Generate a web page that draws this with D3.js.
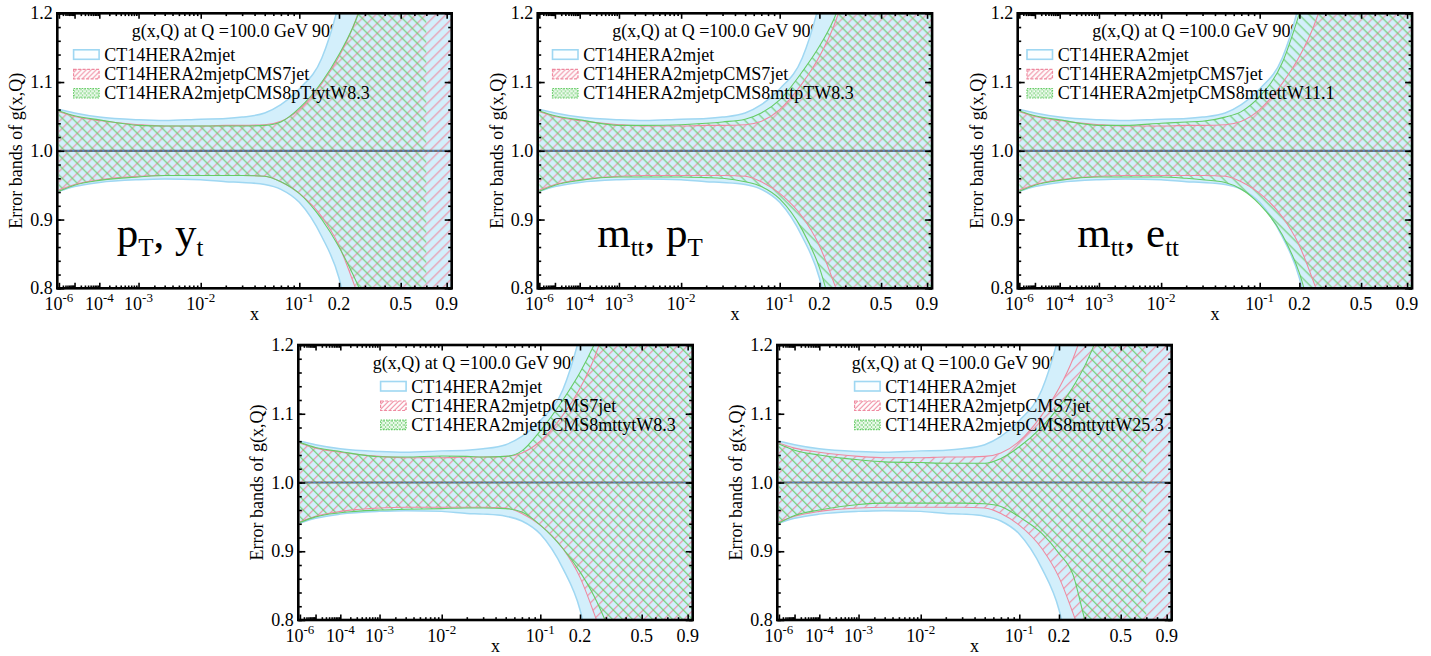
<!DOCTYPE html>
<html><head><meta charset="utf-8">
<script src="https://cdn.jsdelivr.net/npm/d3@7"></script>
<style>
body{margin:0;background:#fff}
svg{display:block}
text{font-family:"Liberation Serif","Times New Roman",serif;fill:#000}
</style>
</head><body>
<svg id="c" width="1431" height="656"></svg>
<script>
// ---------------- DATA ----------------
const xGrid = [1e-6,1e-5,1e-4,1e-3,3e-3,1e-2,0.02,0.03,0.05,0.07,0.1,0.15,0.2,0.25,0.3,0.4,0.5,0.6,0.7,0.8,0.9,0.95];

// CT14HERA2mjet (same in every panel)
const blueUp = [1.060,1.055,1.049,1.045,1.044,1.046,1.047,1.049,1.055,1.067,1.090,1.135,1.215,1.310,1.420,1.600,1.780,1.950,2.100,2.250,2.400,2.480];
const blueLo = [0.941,0.948,0.954,0.958,0.959,0.958,0.955,0.954,0.951,0.944,0.925,0.875,0.815,0.720,0.640,0.500,0.380,0.280,0.200,0.120,0.060,0.030];

// CT14HERA2mjetpCMS7jet (same in every panel)
const redUp = [1.057,1.050,1.044,1.038,1.036,1.036,1.037,1.037,1.038,1.043,1.060,1.098,1.137,1.180,1.230,1.330,1.430,1.530,1.620,1.700,1.780,1.820];
const redLo = [0.943,0.951,0.958,0.963,0.964,0.964,0.964,0.964,0.963,0.955,0.938,0.904,0.862,0.810,0.760,0.660,0.570,0.480,0.400,0.320,0.250,0.220];

// CT14HERA2mjetpCMS8 ... variants
const greenUp_pTyt   = [1.058,1.051,1.045,1.037,1.036,1.036,1.036,1.036,1.037,1.042,1.062,1.100,1.140,1.180,1.225,1.320,1.420,1.520,1.600,null,null,null];
const greenLo_pTyt   = [0.941,0.950,0.957,0.962,0.964,0.964,0.964,0.964,0.963,0.955,0.938,0.900,0.860,0.820,0.780,0.690,0.600,0.510,0.430,null,null,null];
const greenUp_mttpT  = [1.058,1.051,1.045,1.037,1.037,1.038,1.040,1.042,1.046,1.055,1.074,1.115,1.152,1.190,1.235,1.330,1.430,1.520,1.600,1.680,1.750,1.790];
const greenLo_mttpT  = [0.941,0.950,0.957,0.962,0.962,0.962,0.961,0.960,0.955,0.948,0.930,0.885,0.830,0.760,0.700,0.600,0.500,0.410,0.330,0.260,0.200,0.170];
const greenUp_mttett = [1.058,1.051,1.045,1.037,1.037,1.040,1.042,1.043,1.049,1.057,1.079,1.128,1.200,1.270,1.340,1.480,1.600,1.700,1.790,1.870,1.940,1.980];
const greenLo_mttett = [0.941,0.950,0.957,0.962,0.962,0.962,0.960,0.958,0.954,0.944,0.922,0.878,0.822,0.750,0.690,0.580,0.480,0.390,0.310,0.240,0.180,0.150];
const greenUp_mttyt  = [1.058,1.051,1.045,1.0375,1.037,1.0385,1.038,1.037,1.038,1.046,1.075,1.120,1.160,1.200,1.240,1.330,1.420,1.500,1.580,1.650,1.720,1.750];
const greenLo_mttyt  = [0.942,0.950,0.956,0.960,0.961,0.962,0.963,0.963,0.962,0.957,0.938,0.904,0.870,0.835,0.797,0.720,0.640,0.560,0.480,0.400,0.330,0.300];
const greenUp_mttytt = [1.056,1.047,1.040,1.033,1.030,1.029,1.028,1.028,1.028,1.035,1.052,1.081,1.110,1.139,1.170,1.240,1.310,1.380,1.450,null,null,null];
const greenLo_mttytt = [0.941,0.952,0.960,0.968,0.970,0.970,0.970,0.970,0.969,0.965,0.950,0.926,0.897,0.866,0.800,0.720,0.640,0.560,0.480,null,null,null];

const titleText = "g(x,Q) at Q =100.0 GeV 90%";
const blueName = "CT14HERA2mjet";
const redName = "CT14HERA2mjetpCMS7jet";
const greenNames = ["CT14HERA2mjetpCMS8pTtytW8.3","CT14HERA2mjetpCMS8mttpTW8.3","CT14HERA2mjetpCMS8mttettW11.1","CT14HERA2mjetpCMS8mttytW8.3","CT14HERA2mjetpCMS8mttyttW25.3"];
const greenUps = [greenUp_pTyt, greenUp_mttpT, greenUp_mttett, greenUp_mttyt, greenUp_mttytt];
const greenLos = [greenLo_pTyt, greenLo_mttpT, greenLo_mttett, greenLo_mttyt, greenLo_mttytt];
// panel labels: [text, isSub] pieces
const panelLabels = [
  [["p",0],["T",1],[", y",0],["t",1]],
  [["m",0],["tt",1],[", p",0],["T",1]],
  [["m",0],["tt",1],[", e",0],["tt",1]],
  null, null
];
const yTicks = [0.8,0.9,1.0,1.1,1.2];
const yMinor = d3.range(0.8,1.2001,0.02);
const xMajor = [1e-6,1e-5,1e-4,1e-3,1e-2,0.1,0.2,0.5,0.9];
const xMinor = [2e-6,3e-6,4e-6,5e-6,6e-6,7e-6,8e-6,9e-6,2e-5,3e-5,4e-5,5e-5,6e-5,7e-5,8e-5,9e-5,
  2e-4,3e-4,4e-4,5e-4,6e-4,7e-4,8e-4,9e-4,2e-3,3e-3,4e-3,5e-3,6e-3,7e-3,8e-3,9e-3,
  0.02,0.03,0.04,0.05,0.06,0.07,0.08,0.09,0.3,0.4,0.6,0.7,0.8];
const xLabels = [[1e-6,"10","-6"],[1e-4,"10","-4"],[1e-3,"10","-3"],[1e-2,"10","-2"],[0.1,"10","-1"],[0.2,"0.2",""],[0.5,"0.5",""],[0.9,"0.9",""]];

// ---------------- LAYOUT ----------------
const W = 394.4, H = 275;
const panels = [
  {left:57.3, top:13.3, legDx:15.5},
  {left:537.7, top:13.3, legDx:14},
  {left:1017.7, top:13.3, legDx:8.5},
  {left:298.3, top:345, legDx:81.5},
  {left:777.3, top:345, legDx:76.5}
];
const colBlueFill = "#d3effb", colBlueEdge = "#9fd7f2";
const colRed = "#ef8aa0", colGreen = "#66cc66";

const svg = d3.select("#c");
const defs = svg.append("defs");
function hatch(id, color, dir, size, dash) {
  const p = defs.append("pattern").attr("id", id).attr("patternUnits","userSpaceOnUse")
    .attr("width", size).attr("height", size);
  const s = size;
  const d = dir > 0
    ? `M${-1},${1} L${1},${-1} M0,${s} L${s},0 M${s-1},${s+1} L${s+1},${s-1}`
    : `M${-1},${s-1} L${1},${s+1} M0,0 L${s},${s} M${s-1},${-1} L${s+1},${1}`;
  const path = p.append("path").attr("d", d).attr("stroke", color).attr("stroke-width", 1.1).attr("fill","none");
  if (dash) path.attr("stroke-dasharray", dash);
}
hatch("redH", colRed, 1, 10);
hatch("greenH", colGreen, -1, 10);
hatch("redS", colRed, 1, 5);
hatch("greenS", colGreen, -1, 4, "1,1");
hatch("greenS2", colGreen, 1, 4, "1,1");

const x = d3.scalePow().exponent(0.2).domain([7.3e-7, 0.956]).range([0, W]);
const y = d3.scaleLinear().domain([0.8, 1.2]).range([H, 0]);

const rows = (up, lo) => xGrid.map((xv, i) => ({x: xv, u: up[i], l: lo[i]}));
const area = d3.area().defined(d => d.u != null).x(d => x(d.x)).y0(d => y(d.l)).y1(d => y(d.u)).curve(d3.curveMonotoneX);
const lineU = d3.line().defined(d => d.u != null).x(d => x(d.x)).y(d => y(d.u)).curve(d3.curveMonotoneX);
const lineL = d3.line().defined(d => d.u != null).x(d => x(d.x)).y(d => y(d.l)).curve(d3.curveMonotoneX);

panels.forEach((P, k) => {
  const g = svg.append("g").attr("transform", `translate(${P.left},${P.top})`);
  const cid = "clip" + k;
  defs.append("clipPath").attr("id", cid).append("rect").attr("width", W).attr("height", H);

  // title (under bands)
  g.append("text").attr("x", 74.5).attr("y", 24).attr("font-size", 18).text(titleText);

  const gc = g.append("g").attr("clip-path", `url(#${cid})`);
  const blue = rows(blueUp, blueLo), red = rows(redUp, redLo), green = rows(greenUps[k], greenLos[k]);
  gc.append("path").datum(blue).attr("d", area).attr("fill", colBlueFill);
  gc.append("path").datum(blue).attr("d", lineU).attr("fill","none").attr("stroke", colBlueEdge).attr("stroke-width", 1.5);
  gc.append("path").datum(blue).attr("d", lineL).attr("fill","none").attr("stroke", colBlueEdge).attr("stroke-width", 1.5);
  gc.append("path").datum(red).attr("d", area).attr("fill", "url(#redH)");
  gc.append("path").datum(green).attr("d", area).attr("fill", "url(#greenH)");
  [lineU, lineL].forEach(L => {
    gc.append("path").datum(red).attr("d", L).attr("fill","none").attr("stroke", colRed).attr("stroke-width", 1.1);
    gc.append("path").datum(green).attr("d", L).attr("fill","none").attr("stroke", colGreen).attr("stroke-width", 1.1);
  });
  // central line
  gc.append("line").attr("x1", 0).attr("x2", W).attr("y1", y(1)).attr("y2", y(1)).attr("stroke", "#707070").attr("stroke-width", 2.2);
  gc.append("line").attr("x1", 0).attr("x2", W).attr("y1", y(1)).attr("y2", y(1)).attr("stroke", "#4f8fe0").attr("stroke-width", 1.2).attr("stroke-dasharray","2,3");

  // axes ticks
  const styleAx = sel => { sel.select(".domain").remove(); sel.selectAll("line").attr("stroke","#000").attr("stroke-width",1.6); sel.selectAll("text").remove(); };
  g.append("g").attr("transform", `translate(0,${H})`).call(d3.axisBottom(x).tickValues(xMajor).tickSize(-5.5).tickFormat("")).call(styleAx);
  g.append("g").attr("transform", `translate(0,${H})`).call(d3.axisBottom(x).tickValues(xMinor).tickSize(-2.8).tickFormat("")).call(styleAx);
  g.append("g").call(d3.axisTop(x).tickValues(xMajor).tickSize(-5.5).tickFormat("")).call(styleAx);
  g.append("g").call(d3.axisTop(x).tickValues(xMinor).tickSize(-2.8).tickFormat("")).call(styleAx);
  g.append("g").call(d3.axisLeft(y).tickValues(yTicks).tickSize(-7).tickFormat("")).call(styleAx);
  g.append("g").call(d3.axisLeft(y).tickValues(yMinor).tickSize(-3.5).tickFormat("")).call(styleAx);
  g.append("g").attr("transform", `translate(${W},0)`).call(d3.axisRight(y).tickValues(yTicks).tickSize(-7).tickFormat("")).call(styleAx);
  g.append("g").attr("transform", `translate(${W},0)`).call(d3.axisRight(y).tickValues(yMinor).tickSize(-3.5).tickFormat("")).call(styleAx);

  // frame
  g.append("rect").attr("width", W).attr("height", H).attr("fill","none").attr("stroke","#000").attr("stroke-width", 2.6);

  // y tick labels
  yTicks.forEach(v => {
    g.append("text").attr("x", -4.5).attr("y", y(v) + 6).attr("text-anchor","end").attr("font-size", 18).text(v.toFixed(1));
  });
  // x tick labels
  xLabels.forEach(([v, base, sup]) => {
    const t = g.append("text").attr("x", x(v)).attr("y", H + 22).attr("text-anchor","middle").attr("font-size", 18);
    t.append("tspan").text(base);
    if (sup) t.append("tspan").attr("font-size", 13).attr("dy", -8).text(sup);
  });
  // axis titles
  g.append("text").attr("x", W/2).attr("y", H + 32).attr("text-anchor","middle").attr("font-size", 18).text("x");
  g.append("text").attr("transform", `translate(-35,${H/2}) rotate(-90)`).attr("text-anchor","middle").attr("font-size", 18).text("Error bands of g(x,Q)");

  // legend
  const lg = g.append("g").attr("transform", `translate(${P.legDx},0)`);
  lg.append("rect").attr("x",0.8).attr("y",36.5).attr("width",25.5).attr("height",9.5).attr("fill","#fbfeff").attr("stroke", colBlueEdge).attr("stroke-width",1.6);
  lg.append("rect").attr("x",0.8).attr("y",56).attr("width",25.5).attr("height",9.5).attr("fill","url(#redS)").attr("stroke", colRed).attr("stroke-width",1.2).attr("stroke-dasharray","3,1.5");
  lg.append("rect").attr("x",0.8).attr("y",75.2).attr("width",25.5).attr("height",9.5).attr("fill","url(#greenS)").attr("stroke", colGreen).attr("stroke-width",1.2).attr("stroke-dasharray","1.5,1.2");
  lg.append("rect").attr("x",0.8).attr("y",75.2).attr("width",25.5).attr("height",9.5).attr("fill","url(#greenS2)");
  [[blueName,47.7],[redName,66.8],[greenNames[k],86]].forEach(([s, yy]) => {
    lg.append("text").attr("x", 31.5).attr("y", yy).attr("font-size", 18).text(s);
  });

  // panel label
  if (panelLabels[k]) {
    const t = g.append("text").attr("x", 59.5).attr("y", 233.5).attr("font-size", 43);
    let sub = false;
    panelLabels[k].forEach(([s, isSub]) => {
      const ts = t.append("tspan").text(s);
      if (isSub && !sub) { ts.attr("font-size", 25).attr("dy", 9); sub = true; }
      else if (!isSub && sub) { ts.attr("dy", -9); sub = false; }
      else if (isSub) ts.attr("font-size", 25);
    });
  }
});
</script>
</body></html>
